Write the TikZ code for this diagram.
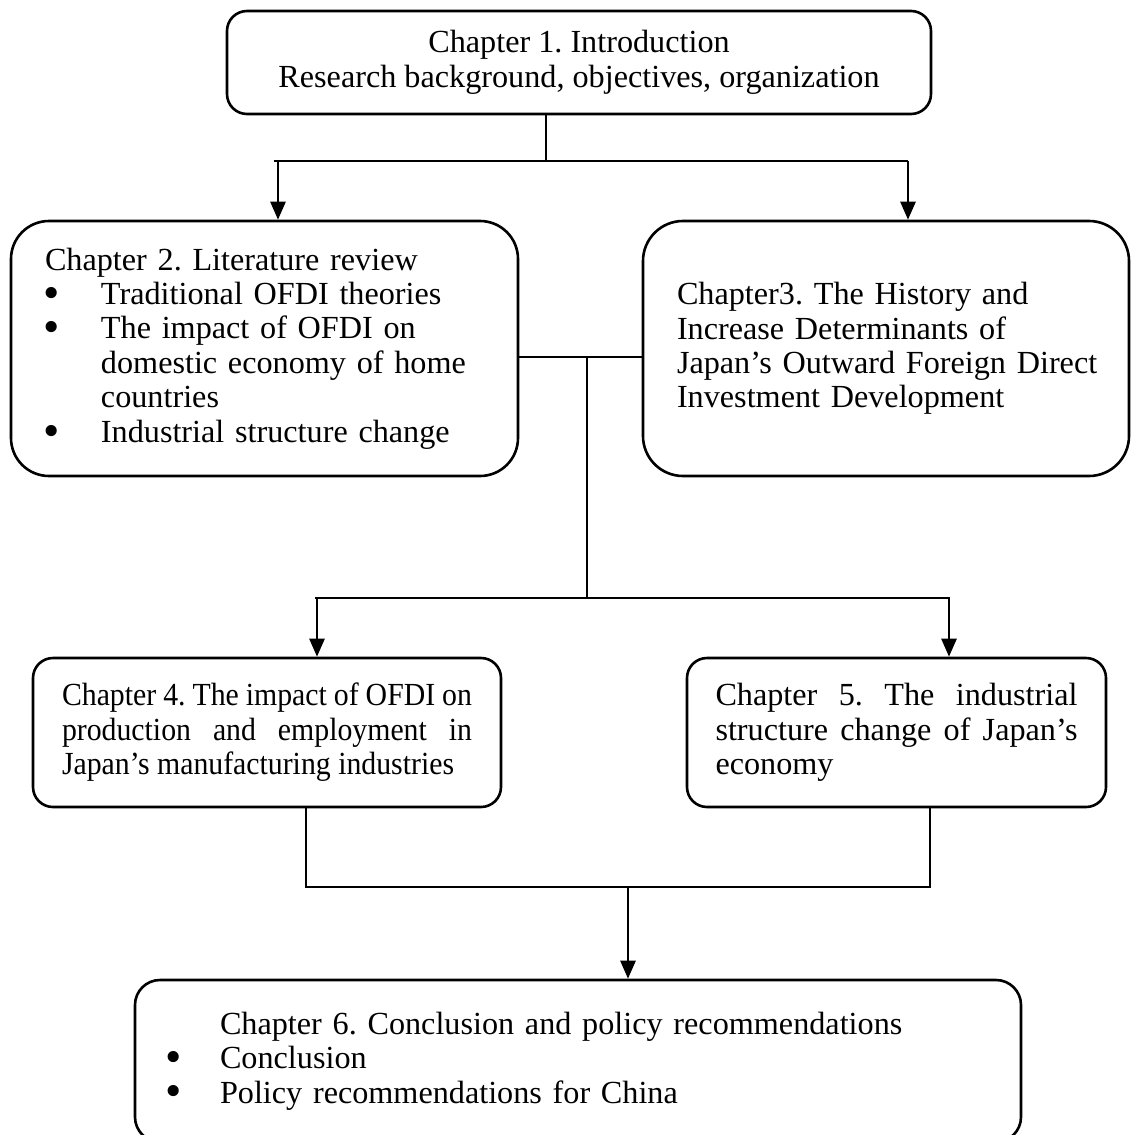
\documentclass[tikz,border=0pt]{standalone}
\usepackage{fontspec}
\setmainfont{Liberation Serif}
\newfontfamily\narrowfont[FakeStretch=0.925]{Liberation Serif}
\usetikzlibrary{arrows.meta}
\frenchspacing
\newcommand\bul[1]{\makebox[#1][l]{\hspace*{-1pt}\smash{\raisebox{-0.12em}{\scalebox{1.45}{\textbullet}}}}}
\begin{document}
\begin{tikzpicture}[x=0.5pt,y=-0.5pt,
  box/.style={draw, line width=1.3pt, fill=white, inner ysep=0pt,
    font=\fontsize{16.1}{17.2}\selectfont\frenchspacing},
  conn/.style={line width=1.3pt},
  arr/.style={line width=1.3pt, -{Triangle[length=9pt,width=7.5pt]}},
]
\useasboundingbox (0,0) rectangle (1132,1135);
\fill[white] (0,0) rectangle (1132,1135);

\node[box, rounded corners=10pt, minimum width=352pt, minimum height=51.5pt, align=center]
  (c1) at (579,62.5) {Chapter 1. Introduction\\Research background, objectives, organization};

\node[box, rounded corners=19pt, text width=219.5pt, inner xsep=17pt, minimum height=127.5pt, align=left]
  (c2) at (264.5,348.5) {Chapter 2. Literature review\\
  \bul{28pt}Traditional OFDI theories\\
  \bul{28pt}The impact of OFDI on\\
  \hspace*{28pt}domestic economy of home\\
  \hspace*{28pt}countries\\
  \bul{28pt}Industrial structure change};

\node[box, rounded corners=20pt, text width=209pt, inner xsep=17pt, minimum height=127.5pt, align=left]
  (c3) at (886,348.5) {\mbox{Chapter3. The History and}\\
  \mbox{Increase Determinants of}\\
  \mbox{Japan’s Outward Foreign Direct}\\
  \mbox{Investment Development}};

\node[box, rounded corners=10pt, text width=205pt, inner xsep=14.5pt, minimum height=74.5pt, align=justify]
  (c4) at (267,732.5) {\narrowfont Chapter 4. The impact of OFDI on\linebreak
  production and employment in\linebreak
  Japan’s manufacturing industries};

\node[box, rounded corners=10pt, text width=181pt, inner xsep=14.25pt, minimum height=74.5pt, align=justify]
  (c5) at (896.5,732.5) {Chapter 5. The industrial\linebreak
  structure change of Japan’s\linebreak
  economy};

\node[box, rounded corners=12.5pt, text width=411pt, inner xsep=16pt, minimum height=81pt, align=left]
  (c6) at (578,1061) {\hspace*{26.5pt}Chapter 6. Conclusion and policy recommendations\\
  \bul{26.5pt}Conclusion\\
  \bul{26.5pt}Policy recommendations for China};

% top connectors
\coordinate (j1) at (546,161);
\coordinate (h1l) at (274,161);
\coordinate (h1r) at (908,161);
\coordinate (a2) at (278,161);
\coordinate (a3) at (908,161);
\draw[conn] (c1.south -| j1) -- (j1);
\draw[conn] (h1l) -- (h1r);
\draw[arr] (a2) -- (a2 |- c2.north);
\draw[arr] (a3) -- (a3 |- c3.north);

% middle connectors
\coordinate (j2) at (587,357);
\coordinate (j3) at (587,598);
\coordinate (h2l) at (315,598);
\coordinate (h2r) at (950,598);
\coordinate (a4) at (317,598);
\coordinate (a5) at (949,598);
\draw[conn] (c2.east |- j2) -- (c3.west |- j2);
\draw[conn] (j2) -- (j3);
\draw[conn] (h2l) -- (h2r);
\draw[arr] (a4) -- (a4 |- c4.north);
\draw[arr] (a5) -- (a5 |- c5.north);

% bottom connectors
\coordinate (b4) at (306,887);
\coordinate (b5) at (930,887);
\coordinate (a6) at (628,887);
\draw[conn] (c4.south -| b4) -- (b4) -- (b5) -- (c5.south -| b5);
\draw[arr] (a6) -- (a6 |- c6.north);
\end{tikzpicture}
\end{document}
